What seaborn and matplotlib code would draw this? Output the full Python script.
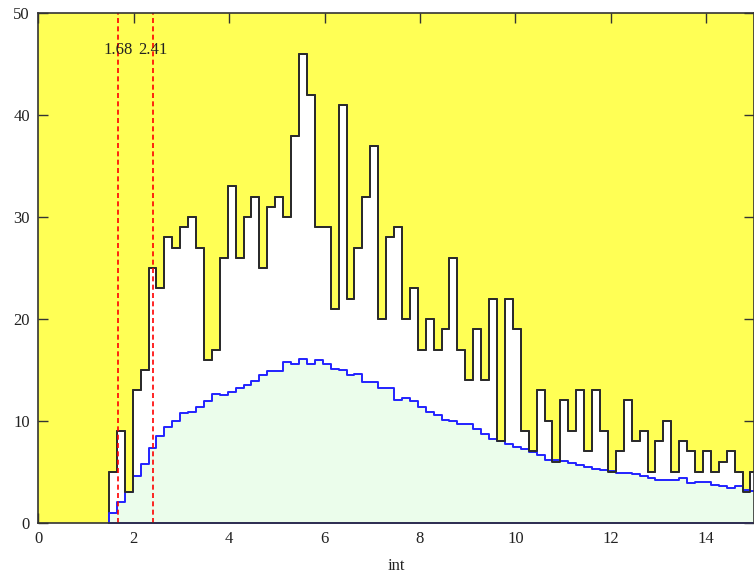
import numpy as np
import pandas as pd
import matplotlib
matplotlib.use('Agg')
import matplotlib.pyplot as plt
import seaborn as sns

# histogram binning
bin_start = 1.48
bin_width = 0.166

# observed counts (black step) per bin
observed = [5, 9, 3, 13, 15, 25, 23, 28, 27, 29,
            30, 27, 16, 17, 26, 33, 26, 30, 32, 25,
            31, 32, 30, 38, 46, 42, 29, 29, 21, 41,
            22, 27, 32, 37, 20, 28, 29, 20, 23, 17,
            20, 17, 19, 26, 17, 14, 19, 14, 22, 8,
            22, 19, 9, 7, 13, 10, 6, 12, 9, 13,
            7, 13, 9, 5, 7, 12, 8, 9, 5, 8,
            10, 5, 8, 7, 5, 7, 5, 6, 7, 5,
            3, 5]

# expected counts (blue step) per bin
expected = [1.0, 2.0, 3.0, 4.6, 5.8, 7.3, 8.5, 9.4, 10.0, 10.75,
            10.9, 11.4, 11.9, 12.6, 12.5, 12.8, 13.2, 13.5, 13.9, 14.5,
            14.9, 14.9, 15.8, 15.6, 16.1, 15.6, 15.95, 15.6, 15.1, 15.0,
            14.5, 14.6, 13.8, 13.8, 13.2, 13.2, 12.0, 12.2, 11.9, 11.4,
            10.9, 10.6, 10.1, 10.0, 9.7, 9.7, 9.2, 8.7, 8.2, 8.0,
            7.7, 7.45, 7.2, 6.9, 6.6, 6.15, 6.15, 6.1, 5.9, 5.7,
            5.5, 5.3, 5.2, 5.1, 4.85, 4.85, 4.75, 4.6, 4.4, 4.2,
            4.2, 4.2, 4.35, 3.9, 4.0, 4.0, 3.7, 3.6, 3.4, 3.6,
            3.2, 3.1]

cut_values = [1.68, 2.41]
x_ticks = [0, 2, 4, 6, 8, 10, 12, 14]
y_ticks = [0, 10, 20, 30, 40, 50]

n_bins = len(observed)
edges = (bin_start + bin_width * np.arange(n_bins + 1)).tolist()
centers = [(a + b) / 2 for a, b in zip(edges[:-1], edges[1:])]
df = pd.DataFrame({'int': centers, 'observed': observed, 'expected': expected})

sns.set_style('ticks')
plt.rcParams['font.family'] = ['Liberation Serif', 'DejaVu Serif']

fig = plt.figure(figsize=(7.54, 5.83), dpi=100)
ax = fig.add_axes([0.0508, 0.1034, 0.9492, 0.8738])
ax.set_facecolor('#ffff55')

# white area under the observed histogram
sns.histplot(data=df, x='int', weights='observed', bins=edges, element='step',
             fill=True, color='white', edgecolor='#2b2b2b', linewidth=1.4,
             alpha=1, ax=ax, zorder=1)
# expected histogram, light green with blue outline
sns.histplot(data=df, x='int', weights='expected', bins=edges, element='step',
             fill=True, color='#ebfdeb', edgecolor='#2222ff', linewidth=1.4,
             alpha=1, ax=ax, zorder=2)
# observed outline again on top
sns.histplot(data=df, x='int', weights='observed', bins=edges, element='step',
             fill=False, color='#2b2b2b', linewidth=1.4, ax=ax, zorder=3)

for v in cut_values:
    ax.axvline(v, color='red', ls=(0, (3, 2)), lw=1.2, zorder=4)
    ax.text(v, 46.4, f'{v:.2f}', ha='center', va='center', fontsize=12,
            color='#222222', zorder=5)

ax.set_xlim(0, 15)
ax.set_ylim(0, 50)
ax.set_xticks(x_ticks)
ax.set_yticks(y_ticks)
ax.tick_params(direction='in', top=True, right=True, length=7, width=1,
               labelsize=12, pad=6, colors='#333333', labelcolor='#222222')
ax.set_xlabel('int', fontsize=12, labelpad=8, color='#222222')
ax.set_ylabel('')
for s in ax.spines.values():
    s.set_color('#333333')
    s.set_linewidth(1.2)
    s.set_zorder(6)

fig.savefig('out.png', dpi=100)
